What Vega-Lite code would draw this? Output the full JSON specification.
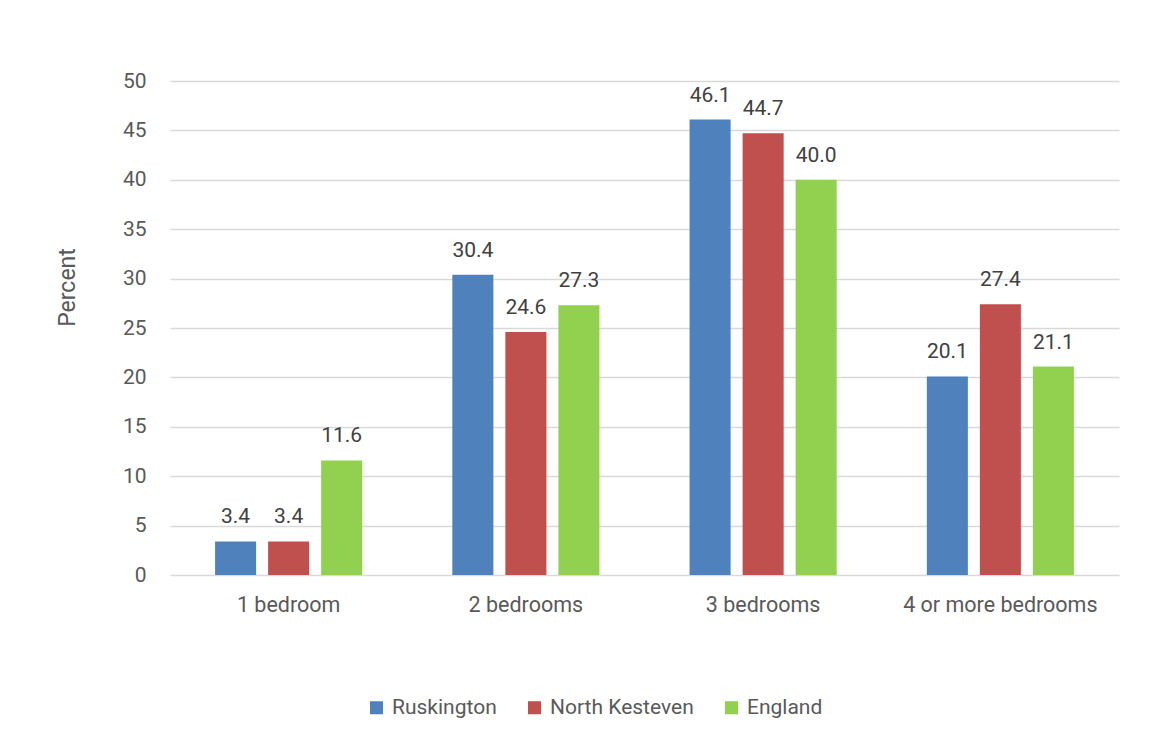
{
  "$schema": "https://vega.github.io/schema/vega-lite/v6.json",
  "autosize": "none",
  "width": 949,
  "height": 494,
  "padding": {"left": 170, "top": 81, "right": 40, "bottom": 165},
  "background": "white",
  "config": {
    "font": "Roboto",
    "view": {"stroke": null},
    "axis": {"labelFont": "Roboto", "titleFont": "Roboto", "labelColor": "#595959", "titleColor": "#595959", "labelFontSize": 21, "titleFontSize": 21, "titleFontWeight": "normal"},
    "legend": {"labelFont": "Roboto", "labelFontSize": 21, "labelColor": "#595959"}
  },
  "data": {
    "values": [
      {"category": "1 bedroom", "area": "Ruskington", "value": 3.4},
      {"category": "1 bedroom", "area": "North Kesteven", "value": 3.4},
      {"category": "1 bedroom", "area": "England", "value": 11.6},
      {"category": "2 bedrooms", "area": "Ruskington", "value": 30.4},
      {"category": "2 bedrooms", "area": "North Kesteven", "value": 24.6},
      {"category": "2 bedrooms", "area": "England", "value": 27.3},
      {"category": "3 bedrooms", "area": "Ruskington", "value": 46.1},
      {"category": "3 bedrooms", "area": "North Kesteven", "value": 44.7},
      {"category": "3 bedrooms", "area": "England", "value": 40.0},
      {"category": "4 or more bedrooms", "area": "Ruskington", "value": 20.1},
      {"category": "4 or more bedrooms", "area": "North Kesteven", "value": 27.4},
      {"category": "4 or more bedrooms", "area": "England", "value": 21.1}
    ]
  },
  "encoding": {
    "x": {
      "field": "category", "type": "nominal", "sort": null,
      "scale": {"paddingInner": 0.38, "paddingOuter": 0.19},
      "axis": {"title": null, "labelAngle": 0, "ticks": false, "domain": false, "labelPadding": 19, "labelFontSize": 21.5, "labelLimit": 0}
    },
    "xOffset": {
      "field": "area", "type": "nominal",
      "sort": ["Ruskington", "North Kesteven", "England"],
      "scale": {"paddingInner": 0.226, "paddingOuter": 0}
    },
    "y": {
      "field": "value", "type": "quantitative",
      "scale": {"domain": [0, 50], "nice": false},
      "axis": {"title": "Percent", "titleFontSize": 23, "labelFontSize": 21, "values": [0, 5, 10, 15, 20, 25, 30, 35, 40, 45, 50], "ticks": false, "domain": false, "labelPadding": 24, "gridColor": "#D9D9D9", "gridWidth": 1.3, "titleX": -103, "titleY": 206, "titleAngle": -90, "titleAlign": "center", "titleBaseline": "middle"}
    }
  },
  "layer": [
    {
      "mark": {"type": "bar"},
      "encoding": {
        "color": {
          "field": "area", "type": "nominal",
          "sort": ["Ruskington", "North Kesteven", "England"],
          "scale": {"domain": ["Ruskington", "North Kesteven", "England"], "range": ["#4F81BD", "#C0504D", "#92D050"]},
          "legend": {"title": null, "orient": "none", "legendX": 196, "legendY": 616, "direction": "horizontal", "symbolType": "square", "symbolSize": 170, "symbolStrokeWidth": 0, "columnPadding": 27, "labelOffset": 5, "labelFontSize": 21}
        }
      }
    },
    {
      "mark": {"type": "text", "baseline": "alphabetic", "dy": -18, "fontSize": 21, "color": "#404040", "font": "Roboto"},
      "encoding": {
        "text": {"field": "value", "type": "quantitative", "format": ".1f"}
      }
    }
  ]
}
